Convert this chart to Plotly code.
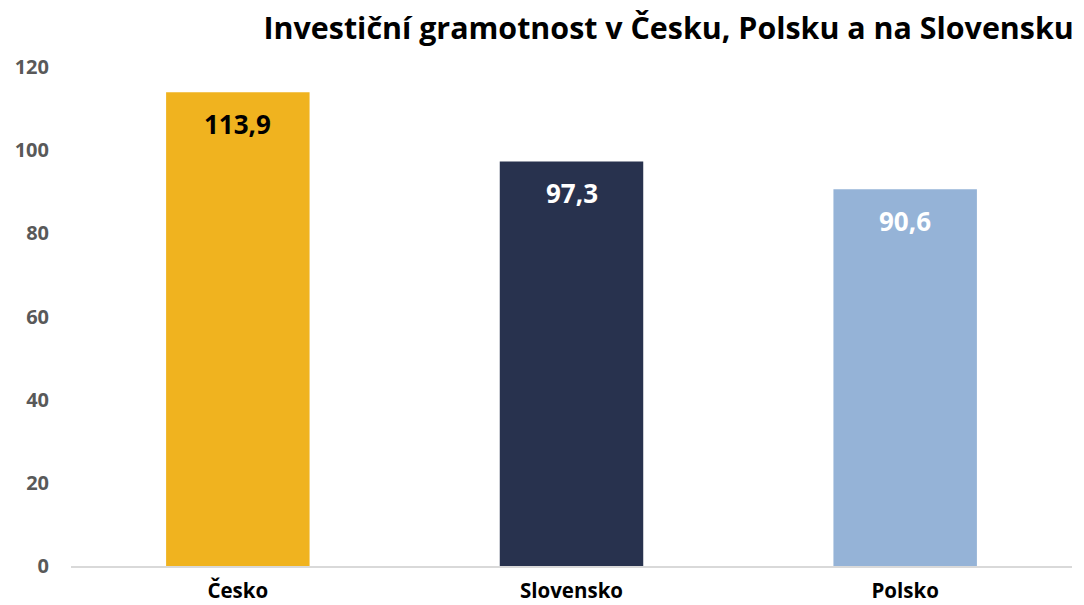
import plotly.graph_objects as go

categories = ["Česko", "Slovensko", "Polsko"]
values = [113.9, 97.3, 90.6]
labels = ["113,9", "97,3", "90,6"]
bar_colors = ["#F0B31F", "#28324E", "#95B3D7"]
label_colors = ["#000000", "#FFFFFF", "#FFFFFF"]
y_ticks = [0, 20, 40, 60, 80, 100, 120]

FONT = "Open Sans"

fig = go.Figure()
fig.add_trace(go.Bar(
    x=categories, y=values, marker=dict(color=bar_colors, line=dict(width=0)),
    width=0.43, hoverinfo="skip"
))

for c, v, t, col in zip(categories, values, labels, label_colors):
    fig.add_annotation(x=c, y=v, text=f"<b>{t}</b>", showarrow=False,
                       yanchor="middle", yshift=-32,
                       font=dict(family=FONT, size=26, color=col))

# page body has an 8px margin, so the figure is sized 8px smaller
fig.update_layout(
    width=1076, height=597,
    margin=dict(l=63, r=12, t=59, b=39, autoexpand=False),
    plot_bgcolor="white", paper_bgcolor="white",
    showlegend=False,
    title=dict(text="<b>Investiční gramotnost v Česku, Polsku a na Slovensku</b>",
               x=0.9905, xanchor="right", y=0.9665, yanchor="middle",
               pad=dict(l=0, r=0, t=0, b=0),
               font=dict(family=FONT, size=30.4, color="#000000")),
    xaxis=dict(showgrid=False, showline=True, linecolor="#D9D9D9", linewidth=1.5,
               tickfont=dict(family=FONT, size=20.5, color="#000000"),
               ticks="", ticklabelstandoff=6, automargin=False,
               tickvals=categories, ticktext=[f"<b>{c}</b>" for c in categories]),
    yaxis=dict(range=[0, 120], tickvals=y_ticks,
               ticktext=[f"<b>{v}</b>" for v in y_ticks],
               showgrid=False, zeroline=False, showline=False, ticks="",
               ticklabelstandoff=21, automargin=False,
               tickfont=dict(family=FONT, size=20, color="#595959")),
)

fig.write_html("out.html")
